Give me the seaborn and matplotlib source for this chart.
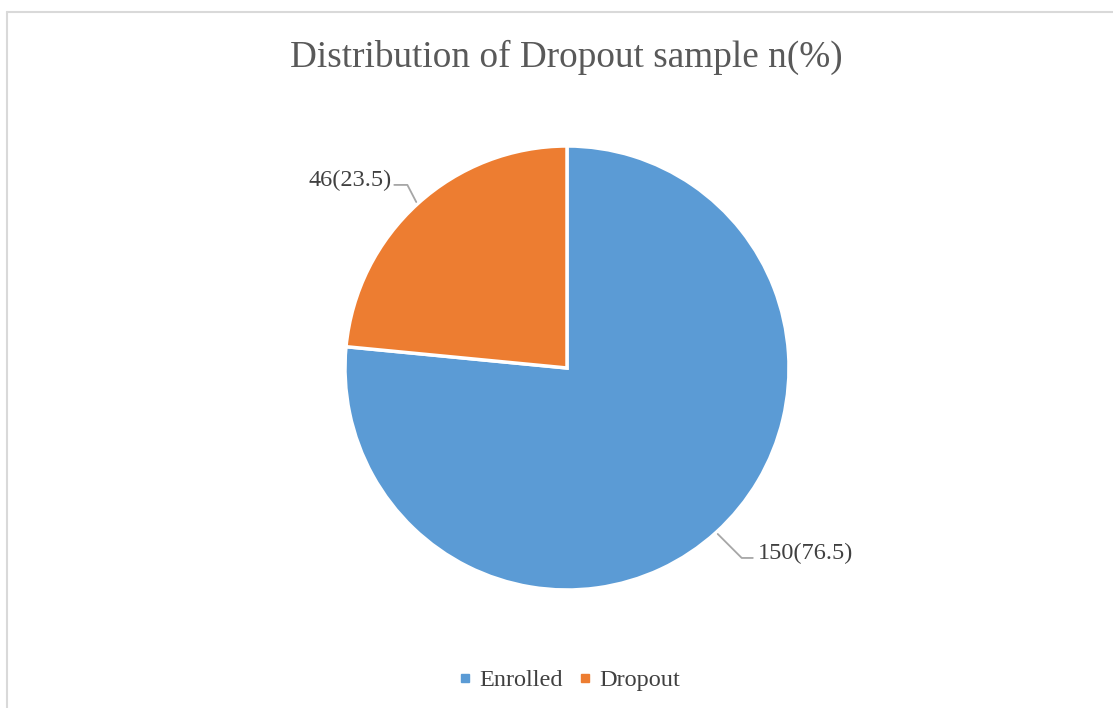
import numpy as np
import matplotlib
matplotlib.use("Agg")
import matplotlib.pyplot as plt
from matplotlib.lines import Line2D
import seaborn as sns

categories = ["Enrolled", "Dropout"]
counts = [150, 46]
percents = [76.5, 23.5]
title = "Distribution of Dropout sample n(%)"

sns.set_theme(style="white")
plt.rcParams['font.family'] = ['Liberation Serif', 'DejaVu Serif']

colors = ["#5B9BD5", "#ED7D31"]

W, H = 1113, 708
fig = plt.figure(figsize=(W / 100, H / 100), dpi=100)
fig.patch.set_facecolor("white")

cx, cy, r = 567, 368, 222
ax = fig.add_axes([(cx - r) / W, (H - cy - r) / H, 2 * r / W, 2 * r / H])
wedges, _ = ax.pie(counts, colors=colors, startangle=90, counterclock=False,
                   radius=1.0, wedgeprops=dict(edgecolor="white", linewidth=2.5))
ax.set_xlim(-1, 1)
ax.set_ylim(-1, 1)
ax.set_aspect("equal")
ax.axis("off")

# label layout: elbow offset, horizontal run, text offset
layouts = {
    "Enrolled": dict(elbow=(0.108, -0.108), run=0.05, text=(0.022, 0.022), ha="left"),
    "Dropout": dict(elbow=(-0.040, 0.077), run=-0.059, text=(-0.013, 0.022), ha="right"),
}
for w, cat, n, p in zip(wedges, categories, counts, percents):
    ang = np.deg2rad((w.theta1 + w.theta2) / 2)
    lay = layouts[cat]
    ax0, ay0 = 1.01 * np.cos(ang), 1.01 * np.sin(ang)
    ex, ey = ax0 + lay["elbow"][0], ay0 + lay["elbow"][1]
    hx = ex + lay["run"]
    ax.plot([ax0, ex, hx], [ay0, ey, ey], color="#A6A6A6", lw=1.3, clip_on=False)
    ax.text(hx + lay["text"][0], ey + lay["text"][1], f"{n}({p})", ha=lay["ha"], va="center",
            fontsize=17.5, color="#404040", clip_on=False)

fig.text(566.5 / W, 1 - 57 / H, title, ha="center", va="center", fontsize=26.8, color="#595959")

handles = [Line2D([0], [0], marker="s", linestyle="", markersize=6, markerfacecolor=c,
                  markeredgecolor=c) for c in colors]
fig.legend(handles, categories, loc="center", bbox_to_anchor=(568 / W, 1 - 680 / H),
           ncol=2, frameon=False, fontsize=17.5, labelcolor="#404040",
           handletextpad=0.2, columnspacing=0.5, handlelength=0.8)

# outer chart frame (top and left edges visible)
fig.add_artist(Line2D([7 / W, 1], [1 - 12 / H, 1 - 12 / H], color="#D9D9D9", lw=1.5))
fig.add_artist(Line2D([7 / W, 7 / W], [0, 1 - 12 / H], color="#D9D9D9", lw=1.5))

fig.savefig("out.png", dpi=100, facecolor="white")
